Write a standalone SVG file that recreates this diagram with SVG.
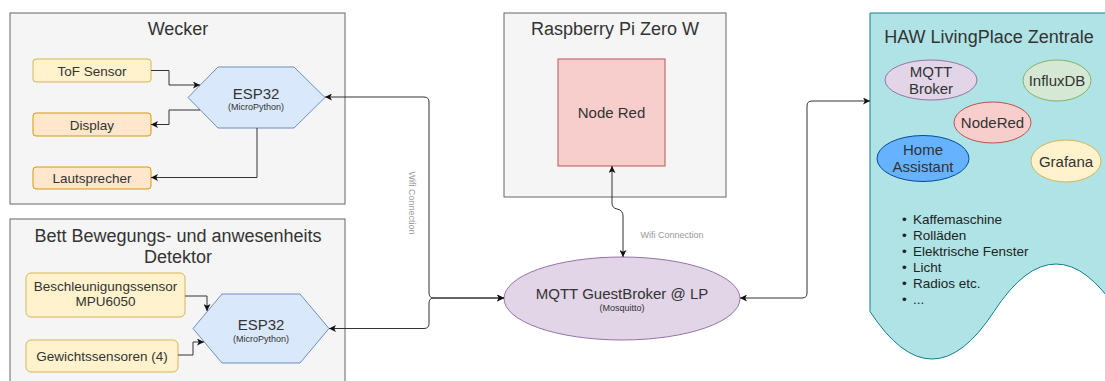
<svg xmlns="http://www.w3.org/2000/svg" width="1105" height="381" viewBox="0 0 1105 381">
<defs>
<style>
text{font-family:"Liberation Sans",Arial,Helvetica,sans-serif;fill:#333333}
.cont{fill:#f5f5f5;stroke:#666666;stroke-width:1}
.title{font-size:18px;text-anchor:middle}
.y{fill:#fff2cc;stroke:#d6b656}
.o{fill:#ffe6cc;stroke:#d79b00}
.hex{fill:#dae8fc;stroke:#6c8ebf}
.sm{font-size:13.5px;text-anchor:middle}
.md{font-size:15px;text-anchor:middle}
.tiny{font-size:9px;text-anchor:middle}
.lbl{font-size:9px;fill:#999999}
.edge{fill:none;stroke:#333333;stroke-width:1}
.li{font-size:13.5px;fill:#222222}
</style>
<marker id="arr" viewBox="0 0 7 7" refX="7" refY="3.5" markerWidth="7" markerHeight="7" markerUnits="userSpaceOnUse" orient="auto-start-reverse">
<path d="M0,0 L7,3.5 L0,7 L1.8,3.5 Z" fill="#111111"/>
</marker>
</defs>

<g id="wecker">
<rect class="cont" x="10" y="13" width="335" height="191"/>
<text class="title" x="178" y="35">Wecker</text>
</g>
<g id="tof"><rect class="y" x="33" y="59" width="118" height="23" rx="3"/><text class="sm" x="92" y="75.5">ToF Sensor</text></g>
<g id="display"><rect class="o" x="33" y="113" width="118" height="23" rx="3"/><text class="sm" x="92" y="129.5">Display</text></g>
<g id="lautsprecher"><rect class="o" x="33" y="167" width="118" height="22" rx="3"/><text class="sm" x="92" y="183">Lautsprecher</text></g>
<g id="esp1"><polygon class="hex" points="188,97.5 218,67 294,67 325,97.5 294,128 218,128"/><text class="md" x="256" y="98.5">ESP32</text><text class="tiny" x="256" y="110">(MicroPython)</text></g>

<g id="bett">
<rect class="cont" x="10" y="219" width="335" height="190"/>
<text class="title" x="178" y="242">Bett Bewegungs- und anwesenheits</text>
<text class="title" x="178" y="263">Detektor</text>
</g>
<g id="beschleunigung"><rect class="y" x="26" y="273" width="159" height="44" rx="5"/><text class="sm" x="105.5" y="291">Beschleunigungssensor</text><text class="sm" x="105.5" y="306">MPU6050</text></g>
<g id="gewicht"><rect class="y" x="26" y="340" width="152" height="32" rx="5"/><text class="sm" x="102" y="360.5">Gewichtssensoren (4)</text></g>
<g id="esp2"><polygon class="hex" points="193,328.5 222,294 300,294 329,328.5 300,363 222,363"/><text class="md" x="261" y="330">ESP32</text><text class="tiny" x="261" y="341.5">(MicroPython)</text></g>

<g id="raspberry">
<rect class="cont" x="504" y="13" width="222" height="184"/>
<text class="title" x="615" y="35">Raspberry Pi Zero W</text>
</g>
<g id="nodered-pi"><rect x="558" y="59" width="107" height="107" fill="#f8cecc" stroke="#b85450"/><text class="md" x="611.5" y="118">Node Red</text></g>

<g id="mqtt-guest"><ellipse cx="622" cy="298.5" rx="118" ry="41.5" fill="#e1d5e7" stroke="#9673a6"/><text class="md" x="622" y="299">MQTT GuestBroker @ LP</text><text class="tiny" x="622" y="311">(Mosquitto)</text></g>

<g id="haw">
<path d="M870,13 L1118,13 L1118,311.5 Q1056,216.5 994,311.5 Q932,406.5 870,311.5 Z" fill="#b0e3e6" stroke="#0e8088"/>
<text class="title" x="989" y="43">HAW LivingPlace Zentrale</text>
<text class="li" x="902" y="223.5"><tspan>•</tspan><tspan x="913">Kaffemaschine</tspan></text>
<text class="li" x="902" y="239.5"><tspan>•</tspan><tspan x="913">Rolläden</tspan></text>
<text class="li" x="902" y="255.5"><tspan>•</tspan><tspan x="913">Elektrische Fenster</tspan></text>
<text class="li" x="902" y="271.5"><tspan>•</tspan><tspan x="913">Licht</tspan></text>
<text class="li" x="902" y="287.5"><tspan>•</tspan><tspan x="913">Radios etc.</tspan></text>
<text class="li" x="902" y="304"><tspan>•</tspan><tspan x="913">...</tspan></text>
</g>
<g id="mqtt-broker"><ellipse cx="931" cy="80" rx="46" ry="20" fill="#e1d5e7" stroke="#9673a6"/><text class="md" x="931" y="77">MQTT</text><text class="md" x="931" y="94">Broker</text></g>
<g id="influxdb"><ellipse cx="1057" cy="80.5" rx="34" ry="20.5" fill="#d5e8d4" stroke="#82b366"/><text class="md" x="1057" y="85.5">InfluxDB</text></g>
<g id="nodered"><ellipse cx="992.5" cy="122.5" rx="38.5" ry="20.5" fill="#f8cecc" stroke="#b85450"/><text class="md" x="992.5" y="128">NodeRed</text></g>
<g id="homeassistant"><ellipse cx="923" cy="158.5" rx="46" ry="23" fill="#66b2ff" stroke="#004c99"/><text class="md" x="923" y="154.5">Home</text><text class="md" x="923" y="172">Assistant</text></g>
<g id="grafana"><ellipse cx="1066" cy="161" rx="35" ry="21" fill="#fff2cc" stroke="#d6b656"/><text class="md" x="1066" y="167">Grafana</text></g>

<g id="connectors">
<path class="edge" d="M151,70.5 H169 V85 H200" marker-end="url(#arr)"/>
<path class="edge" d="M200,110 H169 V124.5 H151" marker-end="url(#arr)"/>
<path class="edge" d="M257,128 V177.5 H151" marker-end="url(#arr)"/>
<path class="edge" d="M185,296 H207 V311" marker-end="url(#arr)"/>
<path class="edge" d="M178,355 H193 V342 H204" marker-end="url(#arr)"/>
<path class="edge" d="M325,97 H424 Q429,97 429,102 V293 Q429,298 434,298 H504" marker-start="url(#arr)" marker-end="url(#arr)"/>
<path class="edge" d="M329,328.5 H424 Q429,328.5 429,323.5 V303 Q429,298 434,298 H504" marker-start="url(#arr)" marker-end="url(#arr)"/>
<path class="edge" d="M612,166 V203 Q612,208 617,209 Q623,210 623,216 V257" marker-start="url(#arr)" marker-end="url(#arr)"/>
<path class="edge" d="M740,298 H802 Q807,298 807,293 V106 Q807,101 812,101 H870" marker-start="url(#arr)" marker-end="url(#arr)"/>
<text class="lbl" text-anchor="middle" transform="translate(411.5,203) rotate(90)" x="0" y="3">Wifi Connection</text>
<text class="lbl" text-anchor="middle" x="672" y="238">Wifi Connection</text>
</g>
</svg>
